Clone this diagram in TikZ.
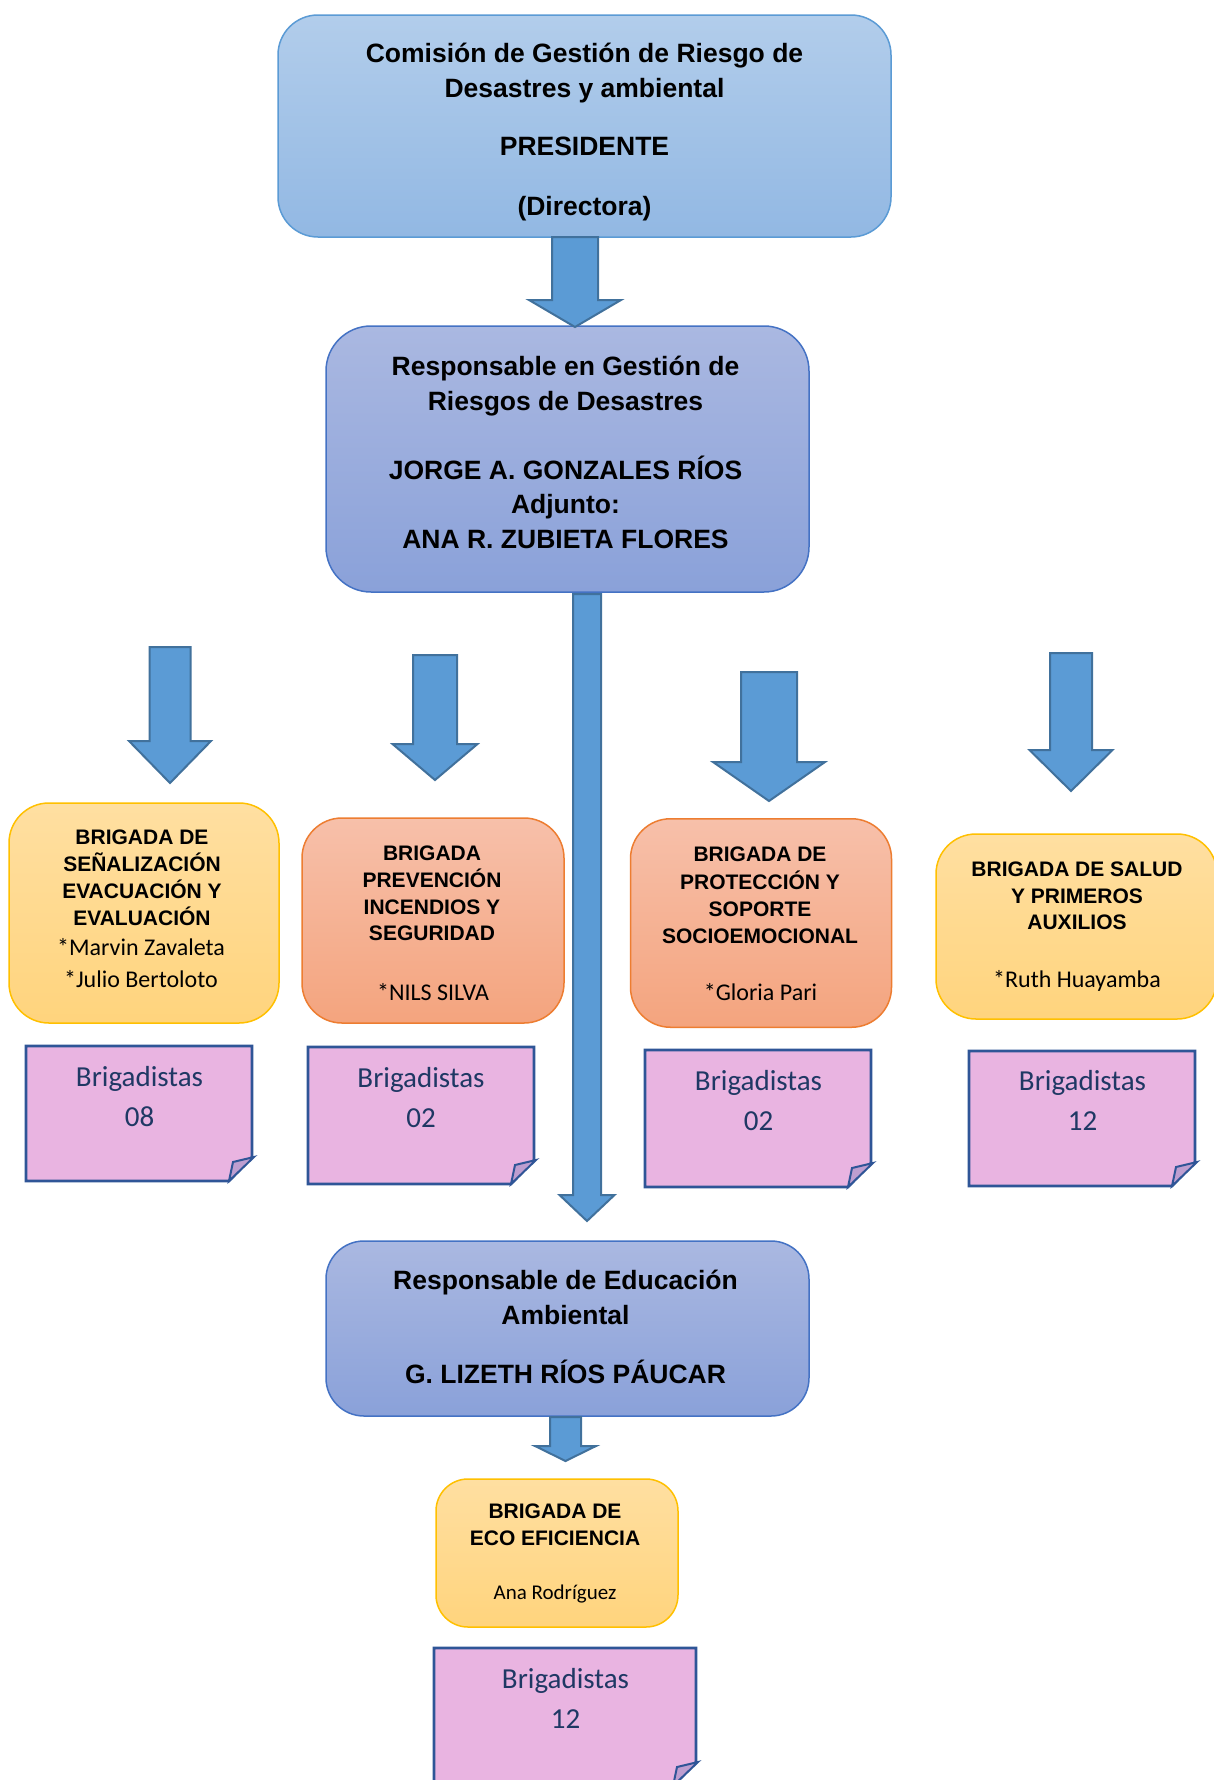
\documentclass[tikz,border=0pt]{standalone}
\usepackage{fontspec}
\setmainfont{Liberation Sans}
\newfontfamily\calib{Carlito}
\definecolor{toptop}{HTML}{B2CDEB}
\definecolor{topbot}{HTML}{92B8E3}
\definecolor{topedge}{HTML}{5B9BD5}
\definecolor{bltop}{HTML}{AAB8E1}
\definecolor{blbot}{HTML}{8AA1D9}
\definecolor{bledge}{HTML}{4472C4}
\definecolor{yeltop}{HTML}{FFDFA1}
\definecolor{yelbot}{HTML}{FFD47D}
\definecolor{yeledge}{HTML}{FFC000}
\definecolor{ortop}{HTML}{F7C0AA}
\definecolor{orbot}{HTML}{F4A47E}
\definecolor{oredge}{HTML}{ED7D31}
\definecolor{pinkfill}{HTML}{E9B4E1}
\definecolor{noteedge}{HTML}{2F5597}
\definecolor{flapfill}{HTML}{BE9ED0}
\definecolor{arrfill}{HTML}{5B9BD5}
\definecolor{arredge}{HTML}{41719C}
\definecolor{navy}{HTML}{1F3864}
\tikzset{
  boxbase/.style={rectangle, line width=1.5pt, inner sep=0pt},
  topbox/.style={boxbase, draw=topedge, top color=toptop, bottom color=topbot, rounded corners=40pt},
  bluebox/.style={boxbase, draw=bledge, top color=bltop, bottom color=blbot},
  yelbox/.style={boxbase, draw=yeledge, top color=yeltop, bottom color=yelbot, rounded corners=40pt},
  orbox/.style={boxbase, draw=oredge, top color=ortop, bottom color=orbot, rounded corners=40pt},
  blockarr/.style={fill=arrfill, draw=arredge, line width=2pt, line join=miter},
  notebody/.style={fill=pinkfill, draw=noteedge, line width=2.8pt, line join=miter},
  noteflap/.style={fill=flapfill, draw=noteedge, line width=2pt, line join=miter},
  txt/.style={align=center, inner sep=0pt, anchor=north},
  bigtxt/.style={txt, font={\bfseries\fontsize{26.5}{34.5}\selectfont}},
  brtxt/.style={txt, font={\bfseries\fontsize{21}{#1}\selectfont}},
  nametxt/.style={txt, font={\calib\fontsize{24}{32}\selectfont}},
  notetxt/.style={txt, text=navy, font={\calib\fontsize{29}{40}\selectfont}}
}
\newcommand\bkarrow[6]{\draw[blockarr] (#1-#3,#2) -- (#1+#3,#2) -- (#1+#3,#5) -- (#1+#4,#5) -- (#1,#6) -- (#1-#4,#5) -- (#1-#3,#5) -- cycle;}
\newcommand\pinknote[4]{%
  \draw[notebody] (#1,#2) -- (#3,#2) -- (#3,#4-24) -- (#3-23,#4) -- (#1,#4) -- cycle;
  \draw[noteflap] (#3+2,#4-24) -- (#3-19,#4-19) -- (#3-23,#4) -- cycle;}
\newcommand\st{\rule{0pt}{1em}}
\begin{document}
\begin{tikzpicture}[x=1pt,y=-1pt]
\clip (0,0) rectangle (1214,1780);
\fill[white] (0,0) rectangle (1214,1780);

% main boxes
\node[topbox, minimum width=613pt, minimum height=222pt] (pres) at (584.5,126) {};
\node[bluebox, rounded corners=45pt, minimum width=483pt, minimum height=266pt] (resp) at (567.5,459) {};
\node[bluebox, rounded corners=38pt, minimum width=483pt, minimum height=175pt] (educ) at (567.5,1328.5) {};

% brigade boxes
\node[yelbox, minimum width=270pt, minimum height=220pt] (b1) at (144,913) {};
\node[orbox, minimum width=262pt, minimum height=205pt] (b2) at (433,920.5) {};
\node[orbox, minimum width=261pt, minimum height=208.5pt] (b3) at (761,923) {};
\node[yelbox, minimum width=281pt, minimum height=185pt] (b4) at (1076.5,926.5) {};
\node[yelbox, rounded corners=32pt, minimum width=242pt, minimum height=148pt] (eco) at (557,1553) {};

% texts of main boxes
\node[bigtxt] (prestxt) at (584.5,36) {\st Comisión de Gestión de Riesgo de\\Desastres y ambiental\\[24pt]PRESIDENTE\\[25pt](Directora)};
\node[bigtxt] (resptxt) at (565.5,349) {\st Responsable en Gestión de\\Riesgos de Desastres\\[34.5pt]JORGE A. GONZALES RÍOS\\Adjunto:\\ANA R. ZUBIETA FLORES};
\node[bigtxt] (eductxt) at (565.5,1263) {\st Responsable de Educación\\Ambiental\\[25pt]G. LIZETH RÍOS PÁUCAR};

% brigade texts
\node[brtxt=27.2] (b1txt) at (142,823) {\st BRIGADA DE\\SEÑALIZACIÓN\\EVACUACIÓN Y\\EVALUACIÓN};
\node[nametxt] (b1name) at (141,931) {\st *Marvin Zavaleta\\*Julio Bertoloto};
\node[brtxt=26.7] (b2txt) at (432,839.5) {\st BRIGADA\\PREVENCIÓN\\INCENDIOS Y\\SEGURIDAD};
\node[nametxt] (b2name) at (433,976.5) {\st *NILS SILVA};
\node[brtxt=27.3] (b3txt) at (760,840.5) {\st BRIGADA DE\\PROTECCIÓN Y\\SOPORTE\\SOCIOEMOCIONAL};
\node[nametxt] (b3name) at (760.5,976.5) {\st *Gloria Pari};
\node[brtxt=26.5] (b4txt) at (1077,855.5) {\st BRIGADA DE SALUD\\Y PRIMEROS\\AUXILIOS};
\node[nametxt] (b4name) at (1077,963) {\st *Ruth Huayamba};
\node[brtxt=27.5] (ecotxt) at (555,1497) {\st BRIGADA DE\\ECO EFICIENCIA};
\node[txt, font={\calib\fontsize{21}{26}\selectfont}] (econame) at (555,1578) {\st Ana Rodríguez};

% block arrows
\bkarrow{575}{237}{23}{46}{300}{327}
\bkarrow{587}{594}{14}{27.5}{1195}{1221}
\bkarrow{170}{647}{20.5}{41}{741}{783}
\bkarrow{435}{655}{22}{42.5}{744}{780}
\bkarrow{769}{672}{28}{56}{762}{801}
\bkarrow{1071}{653}{21}{41.5}{750}{791}
\bkarrow{565.5}{1417}{15.5}{30.5}{1446}{1461}

% notes
\pinknote{26}{1046}{252}{1181}
\pinknote{308}{1047}{534}{1184}
\pinknote{645}{1050}{871}{1187}
\pinknote{969}{1051}{1195}{1186}
\pinknote{434}{1648}{696}{1786}
\node[notetxt] (n1txt) at (139.5,1057) {\st Brigadistas\\08};
\node[notetxt] (n2txt) at (421,1058.5) {\st Brigadistas\\02};
\node[notetxt] (n3txt) at (758.5,1061.5) {\st Brigadistas\\02};
\node[notetxt] (n4txt) at (1082.5,1061.5) {\st Brigadistas\\12};
\node[notetxt] (n5txt) at (565.5,1659.5) {\st Brigadistas\\12};
\end{tikzpicture}
\end{document}
